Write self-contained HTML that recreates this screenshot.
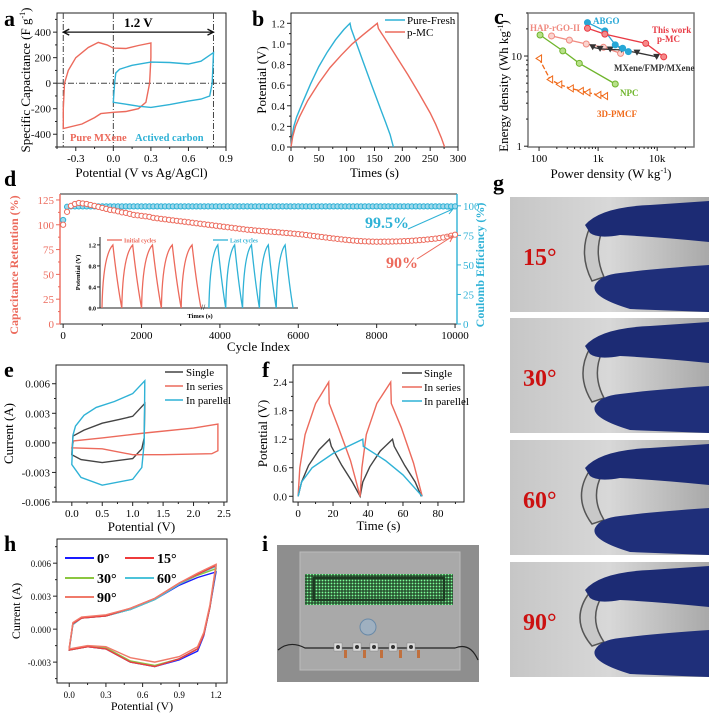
<!DOCTYPE html>
<html><head><meta charset="utf-8">
<style>
html,body{margin:0;padding:0;background:#fff;}
svg{display:block;font-family:"Liberation Serif",serif;}
</style></head>
<body>
<svg id="fig" width="710" height="716" viewBox="0 0 710 716" xmlns="http://www.w3.org/2000/svg">
<defs>
<linearGradient id="bgg" x1="0" x2="1" y1="0" y2="0"><stop offset="0" stop-color="#c6c6c6"/><stop offset="0.5" stop-color="#d8d8d8"/><stop offset="1" stop-color="#a9a9a9"/></linearGradient>
<pattern id="led" width="3" height="3" patternUnits="userSpaceOnUse"><rect width="3" height="3" fill="#1d3a22"/><rect x="0.6" y="0.6" width="1.8" height="1.8" fill="#7dff9a"/></pattern>
</defs>
</svg>
<script>
// ---------- data ----------
const aMXeneV=[-0.4,-0.4,-0.39,-0.36,-0.3,-0.2,-0.12,-0.05,0,0.1,0.2,0.3,0.3,0.29,0.26,0.2,0.1,0,-0.1,-0.15,-0.25,-0.4];
const aMXeneC=[-350,-200,0,100,200,280,320,300,275,272,295,315,200,0,-150,-200,-222,-228,-238,-270,-320,-355];
const aACV=[0,0.01,0.02,0.05,0.15,0.3,0.45,0.6,0.7,0.8,0.79,0.77,0.7,0.6,0.45,0.3,0.2,0.1,0];
const aACC=[-150,0,80,110,140,165,162,150,172,240,0,-100,-125,-140,-168,-190,-180,-165,-150];
const bFreshT=[0,2,5,10,20,35,50,65,80,95,106,108,120,130,145,160,170,178,184];
const bFreshV=[0,0.1,0.2,0.29,0.42,0.61,0.78,0.92,1.04,1.14,1.2,1.15,0.97,0.82,0.6,0.38,0.24,0.12,0];
const bMCT=[0,3,8,15,30,50,70,90,110,130,155,157,175,190,210,230,250,260,270,276];
const bMCV=[0,0.1,0.2,0.29,0.45,0.62,0.77,0.89,1.0,1.09,1.2,1.15,1.0,0.87,0.7,0.52,0.33,0.22,0.09,0];
const cABGOx=[660,1300,1950,2600,3250], cABGOy=[23.5,19,13.3,12.2,11.2];
const cPMCx=[660,1300,6400,12900], cPMCy=[20.3,17.5,13.8,9.8];
const cHAPx=[163,326,630,1230,2400], cHAPy=[16.7,15,13.6,12.5,10.7];
const cMXx=[810,1080,1600,2500,4550,9800], cMXy=[12.5,12,11.8,11.7,10.9,9.8];
const cNPCx=[104,252,480,1950], cNPCy=[17.1,11.4,8.3,4.9];
const cPMCFx=[100,154,220,345,510,660,1010,1310], cPMCFy=[9.4,5.5,4.85,4.38,4.1,3.95,3.7,3.6];
const dRetention=[100,113,119,121,122,121.5,121,120,119,118,
117,116,115,114.5,113.5,112.5,112,111,110,109.5,
109,108.5,108,107,106.5,106,105.5,105,104.5,104,
103.5,103,102.5,102,101.5,101,100.5,100,99.5,99,
98.5,98,97.5,97,96.5,96,95.5,95,94.7,94.3,
94,93.6,93.3,93,92.7,92.4,92,91.7,91.4,91,
90.6,90.2,89.7,89.2,88.7,88.2,87.7,87.2,86.7,86.2,
85.8,85.3,84.9,84.5,84.1,83.8,83.5,83.3,83.1,83,
82.9,82.9,83,83,83.1,83.2,83.3,83.5,83.7,83.9,
84.2,84.5,84.8,85.2,85.6,86,86.6,87.2,88,89,90];
const dCE=[88,99.2,99.5,99.5,99.5,99.5,99.5,99.5,99.5,99.5,
99.5,99.5,99.5,99.5,99.5,99.5,99.5,99.5,99.5,99.5,
99.5,99.5,99.5,99.5,99.5,99.5,99.5,99.5,99.5,99.5,
99.5,99.5,99.5,99.5,99.5,99.5,99.5,99.5,99.5,99.5,
99.5,99.5,99.5,99.5,99.5,99.5,99.5,99.5,99.5,99.5,
99.5,99.5,99.5,99.5,99.5,99.5,99.5,99.5,99.5,99.5,
99.5,99.5,99.5,99.5,99.5,99.5,99.5,99.5,99.5,99.5,
99.5,99.5,99.5,99.5,99.5,99.5,99.5,99.5,99.5,99.5,
99.5,99.5,99.5,99.5,99.5,99.5,99.5,99.5,99.5,99.5,
99.5,99.5,99.5,99.5,99.5,99.5,99.5,99.5,99.5,99.5,99.5];
const dCycleStep=100;
const dInsetRedStarts=[2,22,42,62,82], dInsetBlueStarts=[110,127,144,161,178];
const eSingleV=[0,0.02,0.2,0.5,0.8,1.0,1.2,1.19,1.15,1.0,0.5,0.15,0,0];
const eSingleI=[-0.0012,0.0007,0.0013,0.002,0.0024,0.0027,0.004,0.0005,-0.0006,-0.0016,-0.002,-0.0017,-0.0012,-0.0012];
const eSeriesV=[0,0.03,0.5,1.2,2.0,2.4,2.4,2.3,1.5,1.0,0.5,0];
const eSeriesI=[-0.0005,0.0002,0.0005,0.001,0.0015,0.0019,-0.0008,-0.0011,-0.0012,-0.0012,-0.0006,-0.0005];
const eParV=[0,0.02,0.06,0.2,0.4,0.7,1.0,1.2,1.19,1.15,1.0,0.5,0.15,0];
const eParI=[-0.0022,0.0008,0.0017,0.0028,0.0036,0.0042,0.005,0.0063,0.0,-0.0025,-0.0037,-0.0043,-0.0035,-0.0022];
const fSingleT=[0,2,6,12,18,19,25,31,35.5,37,41,47,54,55,61,67,70.5];
const fSingleV=[0,0.3,0.65,0.98,1.2,1.05,0.65,0.3,0,0.3,0.62,0.95,1.2,1.05,0.65,0.3,0];
const fSeriesT=[0,1,4,10,17.5,17.8,23,30,35.5,36.5,39,45,53,53.3,59,66,71];
const fSeriesV=[0,0.6,1.3,1.95,2.4,1.95,1.45,0.75,0,0.6,1.3,1.95,2.4,1.95,1.45,0.7,0];
const fParT=[0,2,8,20,37,37.3,50,60,71];
const fParV=[0,0.3,0.6,0.9,1.2,1.05,0.75,0.45,0];
const hV=[0,0.03,0.1,0.3,0.5,0.7,0.9,1.05,1.2,1.15,1.1,1.05,0.9,0.7,0.5,0.3,0.15,0];
const h0I=[-0.0018,0.0005,0.001,0.0012,0.0018,0.0027,0.0040,0.0047,0.0052,0.002,-0.0006,-0.002,-0.0028,-0.0034,-0.0030,-0.0018,-0.0016,-0.0019];
const h15I=[-0.0018,0.0005,0.001,0.0012,0.0019,0.0028,0.0042,0.0050,0.0058,0.002,-0.0005,-0.0018,-0.0027,-0.0034,-0.0030,-0.0018,-0.0016,-0.0019];
const h30I=[-0.0018,0.0005,0.001,0.0012,0.0018,0.0027,0.0041,0.0049,0.0055,0.002,-0.0005,-0.0018,-0.0027,-0.0033,-0.0029,-0.0017,-0.0016,-0.0019];
const h60I=[-0.0019,0.0004,0.001,0.0012,0.0018,0.0027,0.0041,0.0050,0.0057,0.002,-0.0005,-0.0018,-0.0027,-0.0034,-0.0030,-0.0018,-0.0016,-0.0019];
const h90I=[-0.0017,0.0006,0.0011,0.0013,0.0019,0.0028,0.0042,0.0051,0.0059,0.0022,-0.0003,-0.0016,-0.0025,-0.003,-0.0026,-0.0016,-0.0015,-0.0018];
const gAngles=['15°','30°','60°','90°'];

// ---------- helpers ----------
const NS='http://www.w3.org/2000/svg';
const svg=document.getElementById('fig');
function mk(tag,attrs,parent){const e=document.createElementNS(NS,tag);for(const k in attrs)e.setAttribute(k,attrs[k]);(parent||svg).appendChild(e);return e;}
function lin(d0,d1,r0,r1){return v=>r0+(v-d0)/(d1-d0)*(r1-r0);}
function logs(d0,d1,r0,r1){return v=>r0+(Math.log10(v)-Math.log10(d0))/(Math.log10(d1)-Math.log10(d0))*(r1-r0);}
function txt(x,y,s,attrs,parent){const t=mk('text',Object.assign({x:x,y:y},attrs||{}),parent);t.textContent=s;return t;}
function frame(g,L,T,R,B){const r=mk('rect',{x:L,y:T,width:R-L,height:B-T,fill:'none',stroke:'#222','stroke-width':1},g);}
function xTicks(g,xs,B,vals,labels,fs,minor){vals.forEach((v,i)=>{mk('line',{x1:xs(v),x2:xs(v),y1:B,y2:B+4,stroke:'#222'},g);const t=txt(xs(v),B+15,labels[i],{'font-size':fs||11,'text-anchor':'middle'},g);});(minor||[]).forEach(v=>mk('line',{x1:xs(v),x2:xs(v),y1:B,y2:B+2,stroke:'#222'},g));}
function yTicks(g,ys,L,vals,labels,fs,minor,col){vals.forEach((v,i)=>{mk('line',{x1:L-4,x2:L,y1:ys(v),y2:ys(v),stroke:col||'#222'},g);const t=txt(L-6,ys(v)+4,labels[i],{'font-size':fs||11,'text-anchor':'end',fill:col||'#111'},g);});(minor||[]).forEach(v=>mk('line',{x1:L-2,x2:L,y1:ys(v),y2:ys(v),stroke:col||'#222'},g));}
function pathFrom(xa,ya,xs,ys){return xa.map((x,i)=>(i?'L':'M')+xs(x).toFixed(1)+','+ys(ya[i]).toFixed(1)).join(' ');}
function letter(x,y,s){const t=txt(x,y,s,{'font-size':22,'font-weight':'bold'});}
function group(name){const g=mk('g',{});return g;}
const RED='#ec6a5c', BLUE='#2fb2d6';

// ---------- panel a ----------
(function(){const g=group('panel-a-cv');const L=57,R=226,T=13,B=147;
const xs=lin(-0.45,0.9,L,R), ys=lin(-500,550,B,T);
letter(4,26,'a');
frame(g,L,T,R,B);
xTicks(g,xs,B,[-0.3,0,0.3,0.6,0.9],['-0.3','0.0','0.3','0.6','0.9'],11,[-0.45,-0.15,0.15,0.45,0.75]);
yTicks(g,ys,L,[-400,-200,0,200,400],['-400','-200','0','200','400'],11,[-500,-300,-100,100,300,500]);
[-0.4,0,0.8].forEach(v=>{const l=mk('line',{x1:xs(v),x2:xs(v),y1:T,y2:B,stroke:'#444','stroke-dasharray':'6,2,1,2'},g);});
mk('line',{x1:L,x2:R,y1:ys(0),y2:ys(0),stroke:'#444','stroke-dasharray':'6,2,1,2'},g);
const ar=mk('path',{d:`M${xs(-0.4)},${ys(400)} L${xs(0.8)},${ys(400)} M${xs(-0.4)+6},${ys(400)-3} L${xs(-0.4)},${ys(400)} L${xs(-0.4)+6},${ys(400)+3} M${xs(0.8)-6},${ys(400)-3} L${xs(0.8)},${ys(400)} L${xs(0.8)-6},${ys(400)+3}`,stroke:'#111',fill:'none','stroke-width':1.3},g);

txt(xs(0.2),ys(400)-5,'1.2 V',{'font-size':13,'font-weight':'bold','text-anchor':'middle'},g);
const p1=mk('path',{d:pathFrom(aMXeneV,aMXeneC,xs,ys)+'Z',fill:'none',stroke:RED,'stroke-width':1.4},g);
const p2=mk('path',{d:pathFrom(aACV,aACC,xs,ys)+'Z',fill:'none',stroke:BLUE,'stroke-width':1.4},g);
txt(70,141,'Pure MXene',{'font-size':10.5,'font-weight':'bold',fill:RED},g);
txt(135,141,'Actived carbon',{'font-size':10.5,'font-weight':'bold',fill:BLUE},g);
const xl=txt((L+R)/2,177,'Potential (V vs Ag/AgCl)',{'font-size':13,'text-anchor':'middle'},g);
const yl=txt(0,0,'Specific Capacitance (F g',{'font-size':13,'text-anchor':'middle',transform:`translate(30,${(T+B)/2}) rotate(-90)`},g);
const sp=mk('tspan',{'font-size':8,dy:-5},yl);sp.textContent='-1';const sp2=mk('tspan',{dy:5},yl);sp2.textContent=')';

})();

// ---------- panel b ----------
(function(){const g=group('panel-b-gcd');const L=291,R=458,T=13,B=147;
const xs=lin(0,300,L,R), ys=lin(0,1.3,B,T);
letter(252,26,'b');
frame(g,L,T,R,B);
xTicks(g,xs,B,[0,50,100,150,200,250,300],['0','50','100','150','200','250','300'],11,[25,75,125,175,225,275]);
yTicks(g,ys,L,[0,0.2,0.4,0.6,0.8,1.0,1.2],['0.0','0.2','0.4','0.6','0.8','1.0','1.2'],11,[0.1,0.3,0.5,0.7,0.9,1.1]);
const p1=mk('path',{d:pathFrom(bFreshT,bFreshV,xs,ys),fill:'none',stroke:BLUE,'stroke-width':1.4},g);
const p2=mk('path',{d:pathFrom(bMCT,bMCV,xs,ys),fill:'none',stroke:RED,'stroke-width':1.4},g);
[['Pure-Fresh',BLUE,20],['p-MC',RED,32]].forEach(([n,c,y])=>{const l=mk('line',{x1:385,x2:405,y1:y,y2:y,stroke:c,'stroke-width':1.5},g);const t=txt(407,y+4,n,{'font-size':11},g);});
const xl=txt((L+R)/2,177,'Times (s)',{'font-size':13,'text-anchor':'middle'},g);
const yl=txt(0,0,'Potential (V)',{'font-size':13,'text-anchor':'middle',transform:`translate(266,${(T+B)/2}) rotate(-90)`},g);
})();

// ---------- panel c ----------
(function(){const g=group('panel-c-ragone');const L=528,R=694,T=13,B=147;
const xs=logs(65,42000,L,R), ys=logs(0.98,30,B,T);
letter(494,24,'c');
mk('rect',{x:L,y:T,width:R-L,height:B-T,fill:'none',stroke:'#777','stroke-width':1.5},g);
xTicks(g,xs,B,[100,1000,10000],['100','1k','10k'],11,[200,300,400,500,600,700,800,900,2000,3000,4000,5000,6000,7000,8000,9000,20000,30000]);
yTicks(g,ys,L,[1,10],['1','10'],11,[2,3,4,5,6,7,8,9,20,30]);
function series(xa,ya,col,name,marker,dash,fill){const p=mk('path',{d:pathFrom(xa,ya,xs,ys),fill:'none',stroke:col,'stroke-width':1.3,'stroke-dasharray':dash||'none'},g);
xa.forEach((x,i)=>{const cx=xs(x),cy=ys(ya[i]);let m;
if(marker==='c')m=mk('circle',{cx:cx,cy:cy,r:3,fill:fill,stroke:col,'stroke-width':1},g);
else if(marker==='v')m=mk('path',{d:`M${cx-3.5},${cy-3} L${cx+3.5},${cy-3} L${cx},${cy+3}Z`,fill:col},g);
else m=mk('path',{d:`M${cx-3},${cy} L${cx+2.5},${cy-3.5} L${cx+2.5},${cy+3.5}Z`,fill:'#fff',stroke:col,'stroke-width':1},g);
});}
series(cHAPx,cHAPy,'#f08a80','hap-rgo','c',null,'#fbd4cf');
series(cMXx,cMXy,'#333','mxene-fmp','v');
series(cNPCx,cNPCy,'#6fb52c','npc','c',null,'#b8e08a');
series(cPMCFx,cPMCFy,'#f06a1a','pmcf','t','5,2');
series(cABGOx,cABGOy,'#27a7d6','abgo','c',null,'#27a7d6');
series(cPMCx,cPMCy,'#e83a44','this-work','c',null,'#f58a8a');
[['ABGO',593,24,'#27a7d6'],['HAP-rGO-II',530,31,'#f08a80'],['This work',652,33,'#e83a44'],['p-MC',657,42,'#e83a44'],['MXene/FMP/MXene',614,71,'#333'],['NPC',620,96,'#6fb52c'],['3D-PMCF',597,117,'#f06a1a']].forEach(([s,x,y,c])=>{const t=txt(x,y,s,{'font-size':9,'font-weight':'bold',fill:c},g);});
const xl=txt((L+R)/2,178,'Power density (W kg',{'font-size':13,'text-anchor':'middle'},g);const s1=mk('tspan',{'font-size':8,dy:-5},xl);s1.textContent='-1';const s2=mk('tspan',{dy:5},xl);s2.textContent=')';

const yl=txt(0,0,'Energy density (Wh kg',{'font-size':13,'text-anchor':'middle',transform:`translate(508,${(T+B)/2+6}) rotate(-90)`},g);const s3=mk('tspan',{'font-size':8,dy:-5},yl);s3.textContent='-1';const s4=mk('tspan',{dy:5},yl);s4.textContent=')';

})();

// ---------- panel d ----------
(function(){const g=group('panel-d-cycling');const L=60,R=457,T=194,B=324;
const xs=lin(-80,10050,L,R), ysL=lin(0,131,B,T), ysR=lin(0,110,B,T);
letter(4,186,'d');
mk('line',{x1:L,x2:R,y1:T,y2:T,stroke:'#555','stroke-width':1.2},g);
mk('line',{x1:L,x2:R,y1:B,y2:B,stroke:'#555','stroke-width':1.2},g);
mk('line',{x1:L,x2:L,y1:T,y2:B,stroke:RED,'stroke-width':1.4},g);
mk('line',{x1:R,x2:R,y1:T,y2:B,stroke:BLUE,'stroke-width':1.4},g);
xTicks(g,xs,B,[0,2000,4000,6000,8000,10000],['0','2000','4000','6000','8000','10000'],11,[1000,3000,5000,7000,9000]);
yTicks(g,ysL,L,[0,25,50,75,100,125],['0','25','50','75','100','125'],11,[12.5,37.5,62.5,87.5,112.5],RED);
[0,25,50,75,100].forEach(v=>{mk('line',{x1:R,x2:R+4,y1:ysR(v),y2:ysR(v),stroke:BLUE},g);const t=txt(R+6,ysR(v)+4,String(v),{'font-size':11,fill:BLUE},g);});
dCE.forEach((v,i)=>{const c=mk('circle',{cx:xs(i*dCycleStep),cy:ysR(v),r:2.6,fill:'#9fd9ec',stroke:BLUE,'stroke-width':1},g);});
dRetention.forEach((v,i)=>{const c=mk('circle',{cx:xs(i*dCycleStep),cy:ysL(v),r:2.6,fill:'#fff',stroke:RED,'stroke-width':1},g);});
const iL=100,iR=298,iT=237,iB=308;const ixs=lin(0,200,iL,iR), iys=lin(0,1.35,iB,iT);
mk('line',{x1:iL,x2:iL,y1:iT,y2:iB,stroke:'#222'},g);mk('line',{x1:iL,x2:iR,y1:iB,y2:iB,stroke:'#222'},g);
[0,0.4,0.8,1.2].forEach(v=>{mk('line',{x1:iL-3,x2:iL,y1:iys(v),y2:iys(v),stroke:'#222'},g);txt(iL-4,iys(v)+2.5,v.toFixed(1),{'font-size':6,'font-weight':'bold','text-anchor':'end'},g);});
function saw(starts,up,down,col,name){let d='';starts.forEach(s=>{const x0=ixs(s),xp=ixs(s+up),x1=ixs(s+up+down);d+=`M${x0},${iys(0)} Q${x0+1},${iys(1.0)} ${xp},${iys(1.2)} Q${xp+(x1-xp)*0.5},${iys(0.45)} ${x1},${iys(0)} `;});const p=mk('path',{d:d,fill:'none',stroke:col,'stroke-width':1.3},g);}
saw(dInsetRedStarts,11,9,RED,'initial-cycles-curve');
saw(dInsetBlueStarts,9,8,BLUE,'last-cycles-curve');
txt(ixs(104),iB+2,'//',{'font-size':8,'text-anchor':'middle'},g);
mk('line',{x1:107,x2:122,y1:240,y2:240,stroke:RED,'stroke-width':1.3},g);txt(124,242.5,'Initial cycles',{'font-size':6,fill:RED,'font-weight':'bold'},g);
mk('line',{x1:213,x2:228,y1:240,y2:240,stroke:BLUE,'stroke-width':1.3},g);txt(230,242.5,'Last cycles',{'font-size':6,fill:BLUE,'font-weight':'bold'},g);
txt(200,318,'Times (s)',{'font-size':6.5,'font-weight':'bold','text-anchor':'middle'},g);
txt(0,0,'Potential (V)',{'font-size':6.5,'font-weight':'bold','text-anchor':'middle',transform:`translate(80,${(iT+iB)/2}) rotate(-90)`},g);
const a1=txt(365,228,'99.5%',{'font-size':16,'font-weight':'bold',fill:BLUE},g);
const a2=txt(386,268,'90%',{'font-size':16,'font-weight':'bold',fill:RED},g);
mk('path',{d:'M408,229 L453,209 M446,209 L453,209 L449,214',stroke:BLUE,fill:'none','stroke-width':1},g);
mk('path',{d:'M417,259 L453,236 M446,236 L453,236 L450,242',stroke:RED,fill:'none','stroke-width':1},g);
const xl=txt((L+R)/2,351,'Cycle Index',{'font-size':13,'text-anchor':'middle'},g);
const yl=txt(0,0,'Capacitance Retention (%)',{'font-size':12,'font-weight':'bold','text-anchor':'middle',fill:RED,transform:`translate(18,${(T+B)/2+6}) rotate(-90)`},g);
const yr=txt(0,0,'Coulomb Efficiency (%)',{'font-size':12,'font-weight':'bold','text-anchor':'middle',fill:BLUE,transform:`translate(484,${(T+B)/2+6}) rotate(-90)`},g);
})();

// ---------- panel e ----------
(function(){const g=group('panel-e-cv');const L=56,R=227,T=365,B=502;
const xs=lin(-0.26,2.55,L,R), ys=lin(-0.006,0.0079,B,T);
letter(4,377,'e');
frame(g,L,T,R,B);
xTicks(g,xs,B,[0,0.5,1,1.5,2,2.5],['0.0','0.5','1.0','1.5','2.0','2.5'],11,[0.25,0.75,1.25,1.75,2.25]);
yTicks(g,ys,L,[-0.006,-0.003,0,0.003,0.006],['-0.006','-0.003','0.000','0.003','0.006'],11,[-0.0045,-0.0015,0.0015,0.0045]);
[[eSingleV,eSingleI,'#444','single-curve'],[eSeriesV,eSeriesI,RED,'series-curve'],[eParV,eParI,BLUE,'parallel-curve']].forEach(([a,b,c,n])=>{const p=mk('path',{d:pathFrom(a,b,xs,ys)+'Z',fill:'none',stroke:c,'stroke-width':1.4},g);});
[['Single','#444',372],['In series',RED,386],['In parellel',BLUE,400]].forEach(([n,c,y])=>{mk('line',{x1:165,x2:183,y1:y,y2:y,stroke:c,'stroke-width':1.5},g);const t=txt(186,y+4,n,{'font-size':11},g);});
const xl=txt((L+R)/2,531,'Potential (V)',{'font-size':13,'text-anchor':'middle'},g);
const yl=txt(0,0,'Current (A)',{'font-size':13,'text-anchor':'middle',transform:`translate(13,${(T+B)/2}) rotate(-90)`},g);
})();

// ---------- panel f ----------
(function(){const g=group('panel-f-gcd');const L=293,R=464,T=365,B=502;
const xs=lin(-2.9,94.9,L,R), ys=lin(-0.12,2.76,B,T);
letter(262,377,'f');
frame(g,L,T,R,B);
xTicks(g,xs,B,[0,20,40,60,80],['0','20','40','60','80'],11,[10,30,50,70,90]);
yTicks(g,ys,L,[0,0.6,1.2,1.8,2.4],['0.0','0.6','1.2','1.8','2.4'],11,[0.3,0.9,1.5,2.1]);
[[fSingleT,fSingleV,'#444','single-curve'],[fSeriesT,fSeriesV,RED,'series-curve'],[fParT,fParV,BLUE,'parallel-curve']].forEach(([a,b,c,n])=>{const p=mk('path',{d:pathFrom(a,b,xs,ys),fill:'none',stroke:c,'stroke-width':1.4},g);});
[['Single','#444',373],['In series',RED,387],['In parellel',BLUE,401]].forEach(([n,c,y])=>{mk('line',{x1:402,x2:422,y1:y,y2:y,stroke:c,'stroke-width':1.5},g);const t=txt(424,y+4,n,{'font-size':11},g);});
const xl=txt((L+R)/2,530,'Time (s)',{'font-size':13,'text-anchor':'middle'},g);
const yl=txt(0,0,'Potential (V)',{'font-size':13,'text-anchor':'middle',transform:`translate(267,${(T+B)/2}) rotate(-90)`},g);
})();

// ---------- panel h ----------
(function(){const g=group('panel-h-bending-cv');const L=57,R=227,T=539,B=683;
const xs=lin(-0.1,1.29,L,R), ys=lin(-0.0049,0.0082,B,T);
letter(4,551,'h');
frame(g,L,T,R,B);
xTicks(g,xs,B,[0,0.3,0.6,0.9,1.2],['0.0','0.3','0.6','0.9','1.2'],9,[0.15,0.45,0.75,1.05]);
yTicks(g,ys,L,[-0.003,0,0.003,0.006],['-0.003','0.000','0.003','0.006'],9,[-0.0045,-0.0015,0.0015,0.0045,0.0075]);
const hs=[[h0I,'#1a1aff','0°'],[h30I,'#8cc63f','30°'],[h60I,'#4cc3d9','60°'],[h15I,'#ee3b3b','15°'],[h90I,'#f07a6a','90°']];
hs.forEach(([I,c,n])=>{const p=mk('path',{d:pathFrom(hV,I,xs,ys)+'Z',fill:'none',stroke:c,'stroke-width':1.4},g);});
[['0°','#1a1aff',65,558],['15°','#ee3b3b',125,558],['30°','#8cc63f',65,578],['60°','#4cc3d9',125,578],['90°','#f07a6a',65,597]].forEach(([n,c,x,y])=>{mk('line',{x1:x,x2:x+29,y1:y,y2:y,stroke:c,'stroke-width':2},g);const t=txt(x+32,y+5,n,{'font-size':14,'font-weight':'bold'},g);});
const xl=txt((L+R)/2,710,'Potential (V)',{'font-size':12,'text-anchor':'middle'},g);
const yl=txt(0,0,'Current (A)',{'font-size':12,'text-anchor':'middle',transform:`translate(20,${(T+B)/2}) rotate(-90)`},g);
})();

// ---------- panel i (photo) ----------
(function(){const g=group('panel-i-led-photo');
letter(262,551,'i');
mk('rect',{x:277,y:545,width:202,height:137,fill:'#8e8e8e'},g);
mk('rect',{x:300,y:552,width:160,height:118,fill:'#a9a9a9',stroke:'#bcbcbc'},g);
const led=mk('rect',{x:305,y:574,width:148,height:31,fill:'url(#led)'},g);
mk('rect',{x:314,y:578,width:130,height:22,fill:'none',stroke:'#1d3a22','stroke-width':2.5},g);
mk('circle',{cx:368,cy:627,r:8,fill:'#9fb0c0',stroke:'#6a8aa8'},g);
mk('path',{d:'M278,650 Q290,640 305,648 L455,648 Q470,642 478,660',fill:'none',stroke:'#222','stroke-width':1.2},g);
[338,357,374,393,411].forEach(x=>{mk('rect',{x:x-4,y:643,width:8,height:8,fill:'#ddd',stroke:'#888','stroke-width':0.5},g);mk('circle',{cx:x,cy:647,r:2,fill:'#333'},g);mk('rect',{x:x+6,y:650,width:3,height:8,fill:'#c0703e'},g);});
})();

// ---------- panel g (photos) ----------
(function(){const g=group('panel-g-bending-photos');
letter(493,190,'g');
const tops=[197,318,440,562];
tops.forEach((y0,i)=>{const t=mk('g',{},g);
mk('rect',{x:510,y:y0,width:199,height:115,fill:'url(#bgg)'},t);
const bend=4+i*3;
mk('path',{d:`M590,${y0+30} Q${582-bend},${y0+57} 592,${y0+84} L604,${y0+80} Q${596-bend*0.6},${y0+57} 602,${y0+34}Z`,fill:'#c8c8c8',stroke:'#555','stroke-width':1.5},t);
mk('path',{d:`M585,${y0+28} Q600,${y0+10} 650,${y0+8} L709,${y0+4} L709,${y0+45} Q660,${y0+40} 620,${y0+38} Q598,${y0+42} 590,${y0+36}Z`,fill:'#1c2b74'},t);
mk('path',{d:`M595,${y0+88} Q590,${y0+100} 630,${y0+112} L709,${y0+115} L709,${y0+68} Q650,${y0+72} 620,${y0+76} Q600,${y0+78} 595,${y0+88}Z`,fill:'#1f2f7a'},t);
const lab=txt(523,y0+68,gAngles[i],{'font-size':24,'font-weight':'bold',fill:'#cc1111'},t);
});
})();
</script>
</body></html>
